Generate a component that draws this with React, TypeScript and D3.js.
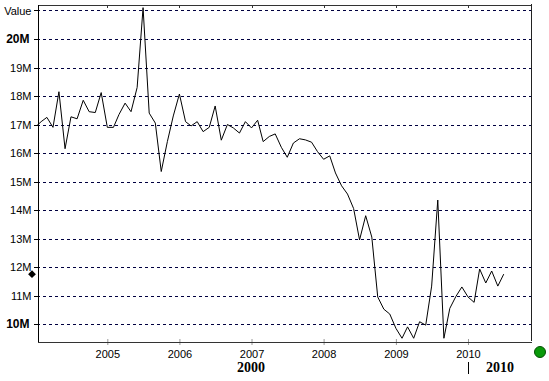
import React, { useRef, useEffect } from 'react';
import * as d3 from 'd3';

// monthly values in millions, Jan..Dec
const v2004 = [16.9, 17.1, 17.25, 16.9, 18.15, 16.15, 17.27, 17.2, 17.85, 17.45, 17.42, 18.12];
const v2005 = [16.9, 16.9, 17.35, 17.75, 17.45, 18.3, 21.1, 17.4, 17.05, 15.35, 16.4, 17.3];
const v2006 = [18.07, 17.1, 16.95, 17.1, 16.75, 16.9, 17.65, 16.45, 17.0, 16.88, 16.7, 17.1];
const v2007 = [16.88, 17.15, 16.4, 16.58, 16.67, 16.2, 15.85, 16.35, 16.5, 16.46, 16.38, 16.05];
const v2008 = [15.78, 15.9, 15.3, 14.85, 14.56, 14.05, 12.95, 13.8, 13.05, 10.95, 10.52, 10.35];
const v2009 = [9.85, 9.5, 9.9, 9.5, 10.08, 9.96, 11.33, 14.35, 9.5, 10.55, 10.97, 11.3];
const v2010 = [10.95, 10.76, 11.93, 11.44, 11.86, 11.33, 11.75];

const years = [2004, 2005, 2006, 2007, 2008, 2009, 2010];
const yearValues = [v2004, v2005, v2006, v2007, v2008, v2009, v2010];

const yTicks = [10, 11, 12, 13, 14, 15, 16, 17, 18, 19, 20, 21];
const boldTicks = [10, 20];
const yearTicks = [2005, 2006, 2007, 2008, 2009, 2010];

export default function App() {
    const chartRef = useRef<SVGSVGElement>(null);

    useEffect(() => {
        const left = 37, right = 531, top = 4, bottom = 341;
        const data: { date: Date; value: number }[] = [];
        years.forEach((yr, k) => {
            yearValues[k].forEach((v, m) => data.push({ date: new Date(yr, m, 1), value: v }));
        });

        const svg = d3.select(chartRef.current);
        svg.selectAll('*').remove();

        const x = d3.scaleTime()
            .domain([new Date(2004, 0, 11), new Date(2010, 10, 16)])
            .range([left, right]);
        const y = d3.scaleLinear()
            .domain([9.404, 21.228])
            .range([bottom, top]);

        // dashed grid
        svg.append('g')
            .selectAll('line')
            .data(yTicks)
            .join('line')
            .attr('x1', left)
            .attr('x2', right)
            .attr('y1', d => Math.round(y(d)) + 0.5)
            .attr('y2', d => Math.round(y(d)) + 0.5)
            .attr('stroke', '#000040')
            .attr('stroke-dasharray', '3,3')
            .attr('shape-rendering', 'crispEdges');

        // frame: top + right
        svg.append('g')
            .attr('transform', 'translate(0,' + (top + 0.5) + ')')
            .call(d3.axisTop(x)
                .tickValues(yearTicks.map(t => new Date(t, 0, 1)))
                .tickFormat(() => '')
                .tickSize(-3)
                .tickSizeOuter(0))
            .call(g => g.selectAll('path,line').attr('stroke', '#333').attr('shape-rendering', 'crispEdges'));
        svg.append('line')
            .attr('x1', right + 0.5).attr('x2', right + 0.5)
            .attr('y1', top).attr('y2', bottom)
            .attr('stroke', '#222')
            .attr('shape-rendering', 'crispEdges');

        // bottom axis
        svg.append('g')
            .attr('transform', 'translate(0,' + (bottom + 0.5) + ')')
            .call(d3.axisBottom(x)
                .tickValues(yearTicks.map(t => new Date(t, 0, 1)))
                .tickFormat(d3.timeFormat('%Y') as any)
                .tickSize(4)
                .tickPadding(5)
                .tickSizeOuter(0))
            .call(g => {
                g.selectAll('path').attr('stroke', '#333').attr('shape-rendering', 'crispEdges');
                g.selectAll('line').attr('stroke', '#333').attr('y1', -2).attr('stroke-dasharray', '1,1');
                g.selectAll('text')
                    .attr('fill', '#000')
                    .style('font-family', 'Tahoma, "Liberation Sans", Arial, sans-serif')
                    .style('font-size', '11px');
            });

        // left axis
        svg.append('g')
            .attr('transform', 'translate(' + (left + 0.5) + ',0)')
            .call(d3.axisLeft(y)
                .tickValues(yTicks)
                .tickFormat((d: any) => (d === 21 ? 'Value' : d + 'M'))
                .tickSize(4)
                .tickPadding(2)
                .tickSizeOuter(0))
            .call(g => {
                g.selectAll('path,line').attr('stroke', '#000').attr('shape-rendering', 'crispEdges');
                g.selectAll('text')
                    .attr('fill', '#000')
                    .style('font-family', 'Tahoma, "Liberation Sans", Arial, sans-serif')
                    .style('font-size', (d: any) => (boldTicks.includes(d) ? '12px' : '11px'))
                    .style('font-weight', (d: any) => (boldTicks.includes(d) ? 'bold' : 'normal'))
                    .attr('dx', (d: any) => (boldTicks.includes(d) ? -2 : 0));
            });

        // line
        svg.append('clipPath')
            .attr('id', 'plotClip')
            .append('rect')
            .attr('x', left).attr('y', top)
            .attr('width', right - left).attr('height', bottom - top);

        svg.append('path')
            .datum(data)
            .attr('clip-path', 'url(#plotClip)')
            .attr('fill', 'none')
            .attr('stroke', '#000')
            .attr('stroke-width', 1)
            .attr('d', d3.line<{ date: Date; value: number }>()
                .x(d => x(d.date))
                .y(d => y(d.value)));

        // current value marker on the y axis
        const last = data[data.length - 1].value;
        svg.append('path')
            .attr('d', d3.symbol().type(d3.symbolSquare).size(30)())
            .attr('transform', 'translate(32,' + y(last) + ') rotate(45)')
            .attr('fill', '#000');

        // green status dot
        svg.append('circle')
            .attr('cx', 540).attr('cy', 352).attr('r', 5.5)
            .attr('fill', '#0a9a0a')
            .attr('stroke', '#045004');

        // bottom captions
        svg.append('text')
            .attr('x', 251).attr('y', 372)
            .attr('text-anchor', 'middle')
            .style('font-family', '"Liberation Serif", "Times New Roman", serif')
            .style('font-size', '14px')
            .style('font-weight', 'bold')
            .text('2000');
        svg.append('line')
            .attr('x1', Math.round(x(new Date(2010, 0, 1))) + 0.5)
            .attr('x2', Math.round(x(new Date(2010, 0, 1))) + 0.5)
            .attr('y1', 362).attr('y2', 374)
            .attr('stroke', '#000')
            .attr('shape-rendering', 'crispEdges');
        svg.append('text')
            .attr('x', 486).attr('y', 372)
            .style('font-family', '"Liberation Serif", "Times New Roman", serif')
            .style('font-size', '14px')
            .style('font-weight', 'bold')
            .text('2010');
    }, []);

    return <div style={{ position: 'fixed', left: 0, top: 0, width: '549px', height: '381px', background: '#fff' }}>
        <svg ref={chartRef} width={549} height={381} style={{ display: 'block' }}></svg>
    </div>;
}
